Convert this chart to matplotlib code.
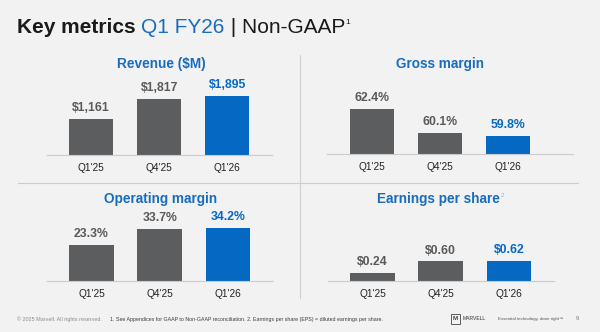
import matplotlib.pyplot as plt

plt.rcParams['font.family'] = ['Liberation Sans', 'DejaVu Sans']

W, H = 600, 332
BG = '#f2f2f2'
GRAY = '#5c5d5f'
BLUE = '#0569c4'
TITLE_BLUE = '#1a6dbd'
LABEL_GRAY = '#595959'

quarters = ["Q1'25", "Q4'25", "Q1'26"]
revenue = [1161, 1817, 1895]
gross_margin = [62.4, 60.1, 59.8]
operating_margin = [23.3, 33.7, 34.2]
eps = [0.24, 0.60, 0.62]

revenue_labels = ['$1,161', '$1,817', '$1,895']
gross_labels = ['62.4%', '60.1%', '59.8%']
operating_labels = ['23.3%', '33.7%', '34.2%']
eps_labels = ['$0.24', '$0.60', '$0.62']

fig = plt.figure(figsize=(W / 100, H / 100), dpi=100)
fig.patch.set_facecolor(BG)


def fx(x):
    return x / W


def fy(y):
    return 1 - y / H


def panel(left, right, base, xlim, ylim, values, labels, title, tx, ty):
    axh = 80
    ax = fig.add_axes([fx(left), fy(base), fx(right - left), axh / H])
    ax.set_facecolor('none')
    bars = ax.bar(range(3), values, width=0.65, color=[GRAY, GRAY, BLUE], zorder=2)
    ax.set_xlim(*xlim)
    ax.set_ylim(*ylim)
    for b, lab, c in zip(bars, labels, [LABEL_GRAY, LABEL_GRAY, BLUE]):
        ax.annotate(lab, (b.get_x() + b.get_width() / 2, b.get_height()),
                    xytext=(0, 3.5), textcoords='offset points', ha='center', va='bottom',
                    fontsize=8.8, fontweight='bold', color=c)
    for s in ['top', 'left', 'right']:
        ax.spines[s].set_visible(False)
    ax.spines['bottom'].set_color('#cbcbcb')
    ax.spines['bottom'].set_linewidth(0.8)
    ax.set_yticks([])
    ax.set_xticks(range(3))
    ax.set_xticklabels(quarters, fontsize=7.3, color='#222222')
    ax.tick_params(axis='x', length=0, pad=5.5)
    t = fig.text(fx(tx), fy(ty), title, ha='center', va='center', fontsize=9.8,
                 fontweight='bold', color=TITLE_BLUE)
    return ax, t


panel(47, 272, 155, (-0.65, 2.66), (0, 80 / 0.0310), revenue, revenue_labels,
      'Revenue ($M)', 161, 64)
panel(327, 573, 154, (-0.66, 2.96), (58.1, 58.1 + 80 / 10.43), gross_margin, gross_labels,
      'Gross margin', 440, 64)
panel(47, 273, 281, (-0.65, 2.66), (0, 80 / 1.55), operating_margin, operating_labels,
      'Operating margin', 161, 199)
_, eps_title = panel(328, 554, 281, (-0.65, 2.66), (0, 80 / 32.7), eps, eps_labels,
                     'Earnings per share', 438, 199)
plt.annotate('2', xy=(1, 0.55), xycoords=eps_title, xytext=(1, 0), textcoords='offset points',
             fontsize=4.5, color='#8ab6e3', ha='left', va='bottom', annotation_clip=False)

# dividers between the four panels
fig.add_artist(plt.Line2D([fx(299.5), fx(299.5)], [fy(55), fy(298)], color='#d0d0d0', lw=0.8))
fig.add_artist(plt.Line2D([fx(18), fx(578)], [fy(183), fy(183)], color='#cccccc', lw=0.8))

# headline built from differently styled pieces
t1 = fig.text(fx(17), fy(33), 'Key metrics ', fontsize=15, fontweight='bold',
              color='#1a1a1a', ha='left', va='baseline')
t2 = plt.annotate('Q1 FY26', xy=(1, 0), xycoords=t1, fontsize=15, color=TITLE_BLUE,
                  ha='left', va='bottom', annotation_clip=False)
t3 = plt.annotate(' | Non-GAAP', xy=(1, 0), xycoords=t2, fontsize=15, color='#1a1a1a',
                  ha='left', va='bottom', annotation_clip=False)
plt.annotate('1', xy=(1, 0.6), xycoords=t3, xytext=(0.5, 0), textcoords='offset points',
             fontsize=6, color='#1a1a1a', ha='left', va='bottom', annotation_clip=False)

# footer
fig.text(fx(17), fy(319), '\u00a9 2025 Marvell. All rights reserved.', fontsize=3.9,
         color='#8a8a8a', ha='left', va='center')
fig.text(fx(110), fy(319),
         '1. See Appendices for GAAP to Non-GAAP reconciliation. 2. Earnings per share (EPS) = diluted earnings per share.',
         fontsize=3.8, color='#3a3a3a', ha='left', va='center')
fig.add_artist(plt.Rectangle((fx(451), fy(324)), fx(9), 10 / H, fill=False,
                             ec='#444444', lw=0.6))
fig.text(fx(455.5), fy(319), 'M', fontsize=4.5, color='#444444', ha='center', va='center',
         fontweight='bold')
fig.text(fx(463), fy(319), 'MARVELL', fontsize=3.6, color='#333333', ha='left', va='center')
fig.text(fx(498), fy(319), 'Essential technology, done right\u2122', fontsize=3.2,
         color='#555555', ha='left', va='center')
fig.text(fx(577), fy(319), '9', fontsize=4.2, color='#777777', ha='center', va='center')

fig.savefig('out.png', dpi=100, facecolor=BG)
